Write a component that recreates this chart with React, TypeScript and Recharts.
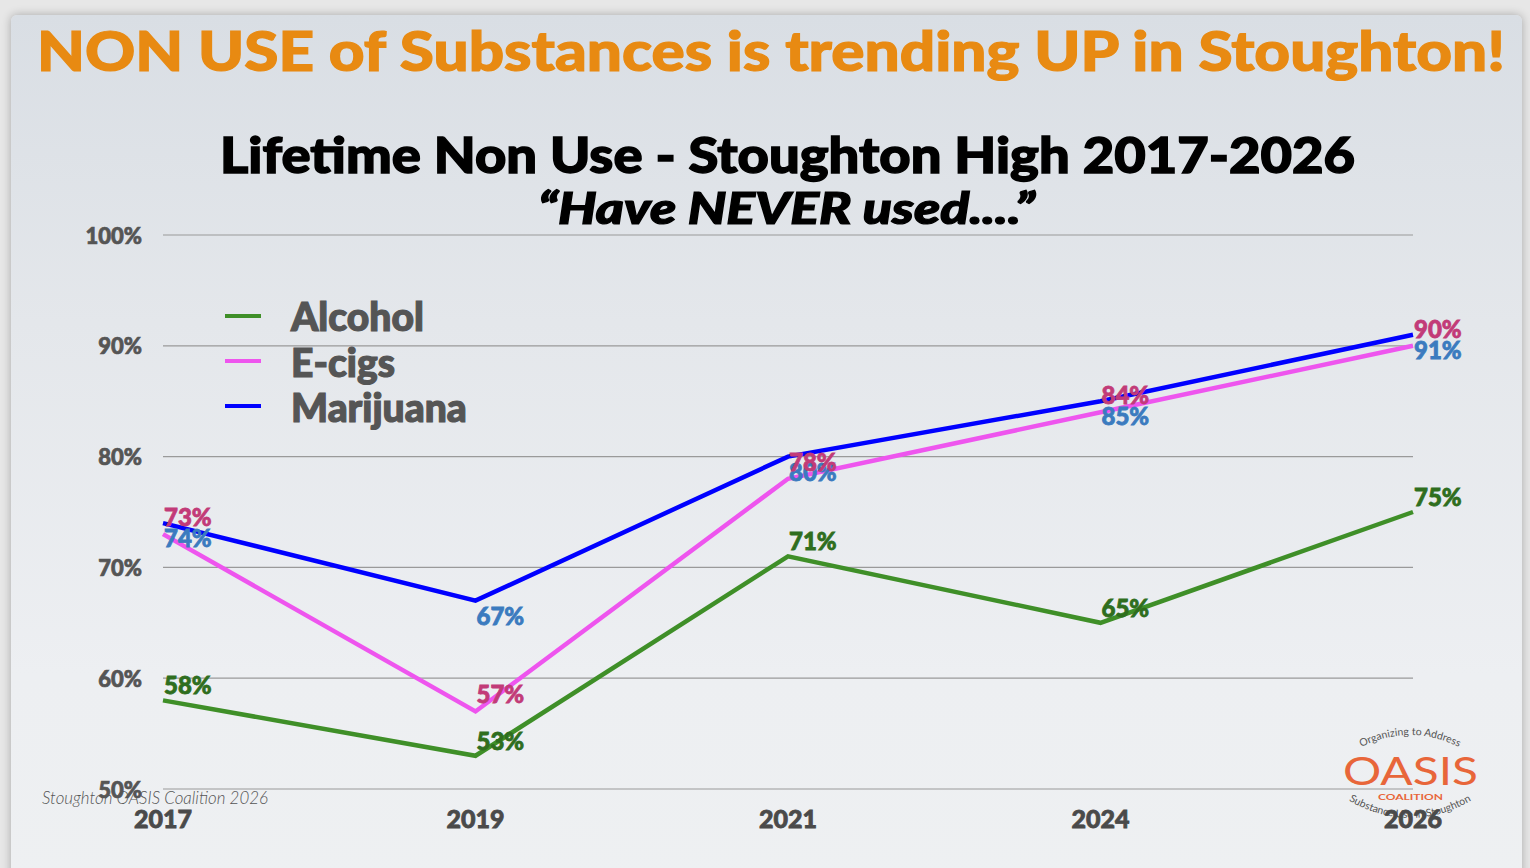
import React from "react";
import { LineChart, Line, XAxis, YAxis, CartesianGrid, LabelList, Legend } from "recharts";

const years = ["2017", "2019", "2021", "2024", "2026"];
const alcohol = [58, 53, 71, 65, 75];
const ecigs = [73, 57, 78, 84, 90];
const marijuana = [74, 67, 80, 85, 91];
const yTicks = [50, 60, 70, 80, 90, 100];
const seriesNames = ["Alcohol", "E-cigs", "Marijuana"];

const data = years.map((y, i) => ({
  year: y,
  Alcohol: alcohol[i],
  "E-cigs": ecigs[i],
  Marijuana: marijuana[i],
}));

const W = 1530;
const H = 868;
const PLOT_LEFT = 163;
const PLOT_RIGHT = 1413;
const PLOT_TOP = 235;
const PLOT_BOTTOM = 789;
const Y_AXIS_W = 60;
const X_AXIS_H = 40;

const FONT = "Lato, 'Open Sans', sans-serif";

const lineColors: Record<string, string> = {
  Alcohol: "#3f8f28",
  "E-cigs": "#ee55ee",
  Marijuana: "#0000ff",
};
const labelColors: Record<string, string> = {
  Alcohol: "#2f6e1e",
  "E-cigs": "#c23b78",
  Marijuana: "#3b7bbf",
};

const makeLabel = (name: string, below: boolean, dyAbove: number) => (props: any) => {
  const { x, y, value } = props;
  if (x == null || y == null) return null;
  return (
    <text
      x={x + 1}
      y={below ? y + 24 : y - dyAbove}
      fill={labelColors[name]}
      stroke={labelColors[name]}
      strokeWidth={0.8}
      fontFamily={FONT}
      fontWeight={900}
      fontSize={24}
      textAnchor="start"
    >
      {value}%
    </text>
  );
};

const YTick = (props: any) => {
  const { y, payload } = props;
  return (
    <text
      x={PLOT_LEFT - 21}
      y={y}
      textAnchor="end"
      dominantBaseline="central"
      fill="#555555"
      stroke="#555555"
      strokeWidth={0.7}
      fontFamily={FONT}
      fontWeight={900}
      fontSize={22}
    >
      {payload.value}%
    </text>
  );
};

const XTick = (props: any) => {
  const { x, payload } = props;
  return (
    <text
      x={x}
      y={PLOT_BOTTOM + 29}
      textAnchor="middle"
      dominantBaseline="central"
      fill="#4a4a4a"
      stroke="#4a4a4a"
      strokeWidth={0.8}
      fontFamily={FONT}
      fontWeight={900}
      fontSize={25}
    >
      {payload.value}
    </text>
  );
};

const LegendContent = () => (
  <svg width={320} height={150} style={{ display: "block", overflow: "visible" }}>
    {seriesNames.map((n, i) => (
      <g key={n}>
        <line x1={0} x2={36} y1={26 + i * 45} y2={26 + i * 45} stroke={lineColors[n]} strokeWidth={4} />
        <text
          x={66}
          y={41 + i * 45.5}
          fill="#555555"
          stroke="#555555"
          strokeWidth={1.2}
          fontFamily={FONT}
          fontWeight={900}
          fontSize={39}
        >
          {n}
        </text>
      </g>
    ))}
  </svg>
);

const Overlay = () => (
  <svg width={W} height={H} style={{ position: "absolute", left: 0, top: 0 }}>
    <text
      x={37}
      y={71}
      textLength={1468}
      lengthAdjust="spacingAndGlyphs"
      fill="#e88a12"
      stroke="#e88a12"
      strokeWidth={1.2}
      fontFamily={FONT}
      fontWeight={900}
      fontSize={55}
    >
      NON USE of Substances is trending UP in Stoughton!
    </text>
    <text
      x={220}
      y={173}
      textLength={1135}
      lengthAdjust="spacingAndGlyphs"
      fill="#000000"
      stroke="#000000"
      strokeWidth={1.4}
      fontFamily={FONT}
      fontWeight={900}
      fontSize={49}
    >
      Lifetime Non Use - Stoughton High 2017-2026
    </text>
    <text
      x={538}
      y={224}
      textLength={497}
      lengthAdjust="spacingAndGlyphs"
      fill="#000000"
      stroke="#000000"
      strokeWidth={1.2}
      fontFamily={FONT}
      fontWeight={900}
      fontStyle="italic"
      fontSize={43}
    >
      “Have NEVER used....”
    </text>
    <text
      x={42}
      y={804}
      textLength={226}
      lengthAdjust="spacingAndGlyphs"
      fill="#555555"
      fontFamily={FONT}
      fontWeight={300}
      fontStyle="italic"
      fontSize={17}
    >
      Stoughton OASIS Coalition 2026
    </text>
    <defs>
      <path id="arcTop" d="M1352,752 Q1410,718 1468,752" />
      <path id="arcBot" d="M1348,800 Q1410,836 1472,800" />
    </defs>
    <text fill="#555555" fontFamily={FONT} fontSize={10.5}>
      <textPath href="#arcTop" startOffset="50%" textAnchor="middle">
        Organizing to Address
      </textPath>
    </text>
    <text fill="#555555" fontFamily={FONT} fontSize={10.5}>
      <textPath href="#arcBot" startOffset="50%" textAnchor="middle">
        Substance Use in Stoughton
      </textPath>
    </text>
    <text
      x={1343}
      y={785}
      textLength={135}
      lengthAdjust="spacingAndGlyphs"
      fill="#e8663a"
      fontFamily={FONT}
      fontWeight={400}
      fontSize={38}
    >
      OASIS
    </text>
    <text
      x={1378}
      y={800}
      textLength={65}
      lengthAdjust="spacingAndGlyphs"
      fill="#e8663a"
      fontFamily={FONT}
      fontWeight={700}
      fontSize={8}
    >
      COALITION
    </text>
  </svg>
);

export default function App() {
  return (
    <div
      style={{
        position: "fixed",
        left: 0,
        top: 0,
        width: W,
        height: H,
        background: "#e7e7e7",
        overflow: "hidden",
      }}
    >
      <div
        style={{
          position: "absolute",
          left: 11,
          top: 15,
          width: 1511,
          height: 880,
          borderRadius: "6px 6px 0 0",
          background: "linear-gradient(180deg, #d9dee4 0%, #e4e7eb 35%, #edeff2 75%, #eef0f2 100%)",
          boxShadow: "0 0 10px rgba(0,0,0,0.28)",
        }}
      />
      <Overlay />
      <div style={{ position: "absolute", left: 0, top: 0 }}>
        <LineChart
          width={W}
          height={H}
          data={data}
          margin={{
            left: PLOT_LEFT - Y_AXIS_W,
            right: W - PLOT_RIGHT,
            top: PLOT_TOP,
            bottom: H - PLOT_BOTTOM - X_AXIS_H,
          }}
        >
          <CartesianGrid horizontal={true} vertical={false} stroke="#9a9a9a" strokeWidth={1.2} />
          <XAxis
            dataKey="year"
            type="category"
            scale="point"
            padding={{ left: 0, right: 0 }}
            axisLine={false}
            tickLine={false}
            height={X_AXIS_H}
            tick={<XTick />}
            interval={0}
          />
          <YAxis
            type="number"
            domain={[50, 100]}
            ticks={yTicks}
            axisLine={false}
            tickLine={false}
            width={Y_AXIS_W}
            tick={<YTick />}
            interval={0}
          />
          <Legend
            layout="vertical"
            verticalAlign="middle"
            align="center"
            content={<LegendContent />}
            wrapperStyle={{ position: "absolute", left: 225, top: 290, width: 320, height: 150 }}
          />
          <Line
            type="linear"
            dataKey="Alcohol"
            stroke={lineColors.Alcohol}
            strokeWidth={4.5}
            dot={false}
            activeDot={false}
            isAnimationActive={false}
          >
            <LabelList dataKey="Alcohol" content={makeLabel("Alcohol", false, 6)} />
          </Line>
          <Line
            type="linear"
            dataKey="Marijuana"
            stroke={lineColors.Marijuana}
            strokeWidth={4.5}
            dot={false}
            activeDot={false}
            isAnimationActive={false}
          >
            <LabelList dataKey="Marijuana" content={makeLabel("Marijuana", true, 0)} />
          </Line>
          <Line
            type="linear"
            dataKey="E-cigs"
            stroke={lineColors["E-cigs"]}
            strokeWidth={4.5}
            dot={false}
            activeDot={false}
            isAnimationActive={false}
          >
            <LabelList dataKey="E-cigs" content={makeLabel("E-cigs", false, 8)} />
          </Line>
        </LineChart>
      </div>
    </div>
  );
}
